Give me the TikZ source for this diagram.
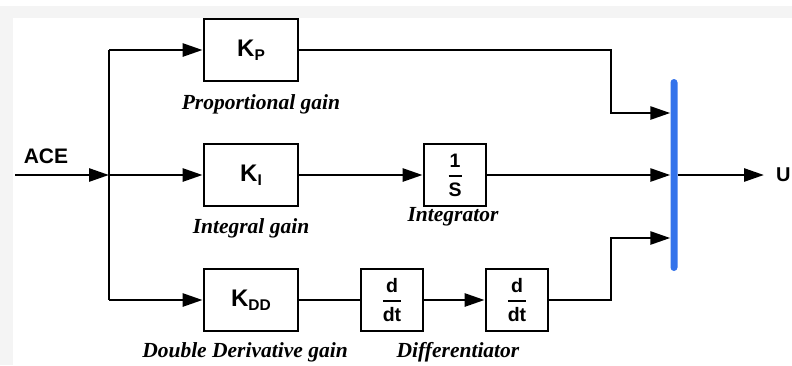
\documentclass[tikz,border=0pt]{standalone}
\usepackage{fontspec}
\setmainfont{Liberation Serif}
\newfontfamily\blockfont{Liberation Sans}
\usetikzlibrary{arrows.meta,positioning}
\definecolor{sumblue}{RGB}{52,115,235}
\definecolor{framegray}{RGB}{244,244,244}
% stacked fraction built from the \above primitive
\newcommand{\blkfrac}[2]{$\displaystyle{\hbox{\blockfont\bfseries #1}\above 1.8pt\hbox{\blockfont\bfseries #2}}$}
% gain symbol with a lowered subscript
\newcommand{\gainK}[1]{K\raisebox{-4pt}{\fontsize{15.5}{17}\selectfont #1}}
\tikzset{
  wire/.style={line width=2.7pt},
  arr/.style={wire,-{Triangle[length=20pt,width=13pt]}},
  blk/.style={draw,line width=2.8pt,inner sep=0pt,minimum width=94pt,minimum height=62pt,
    font=\blockfont\bfseries\fontsize{24}{26}\selectfont},
  opblk/.style={blk,minimum width=62pt,font=\blockfont\bfseries\fontsize{19.5}{21}\selectfont},
  lbl/.style={font=\bfseries\itshape\fontsize{21.5}{24}\selectfont},
}
\begin{document}
\begin{tikzpicture}[x=1pt,y=-1pt]
\useasboundingbox (0,0) rectangle (792,365);
% page frame
\fill[framegray] (0,6) rectangle (792,18);
\fill[framegray] (0,18) rectangle (13,365);

% blocks
\node[blk] (kp) at (251,50) {\gainK{P}};
\node[blk] (ki) at (251,175) {\gainK{I}};
\node[blk] (kdd) at (251,300) {\gainK{DD}};
\node[opblk] (int) at (455,175) {\blkfrac{1}{S}};
\node[opblk] (d1) at (392,300) {\blkfrac{d}{dt}};
\node[opblk] (d2) at (517,300) {\blkfrac{d}{dt}};

% summing bar
\node[fill=sumblue,rounded corners=3.5pt,minimum width=7pt,minimum height=192pt,inner sep=0pt] (sum) at (674,175) {};

% labels
\node[lbl] (lp) at (261,104) {Proportional gain};
\node[lbl] (li) at (251,228) {Integral gain};
\node[lbl] (lint) at (453,217) {Integrator};
\node[lbl] (ldd) at (245,352) {Double Derivative gain};
\node[lbl] (ldiff) at (458,352) {Differentiator};
\node[font=\blockfont\bfseries\fontsize{21}{23}\selectfont] (ace) at (46,156) {ACE};

% signal routing
\coordinate (in) at (15,175);
\coordinate (j) at (109,175);
\coordinate (jt) at (109,50);
\coordinate (jb) at (109,300);
\coordinate (tb) at (611,113);
\coordinate (bb) at (611,238);
\coordinate (out) at (764,175);

\draw[arr] (in) -- (j);
\draw[wire] (jt) -- (jb);
\draw[arr] (jt) -- (kp.west);
\draw[arr] (j) -- (ki.west);
\draw[arr] (jb) -- (kdd.west);
\draw[arr] (ki.east) -- (int.west);
\draw[wire] (kdd.east) -- (d1.west);
\draw[arr] (d1.east) -- (d2.west);

\draw[arr] (kp.east) -| (tb) -- (tb -| sum.west);
\draw[arr] (int.east) -- (int -| sum.west);
\draw[arr] (d2.east) -| (bb) -- (bb -| sum.west);
\draw[arr] (sum.east |- out) -- (out);
\node[anchor=west,font=\blockfont\bfseries\fontsize{20}{22}\selectfont,inner sep=0pt] (u) at (776,175) {U};
\end{tikzpicture}
\end{document}
